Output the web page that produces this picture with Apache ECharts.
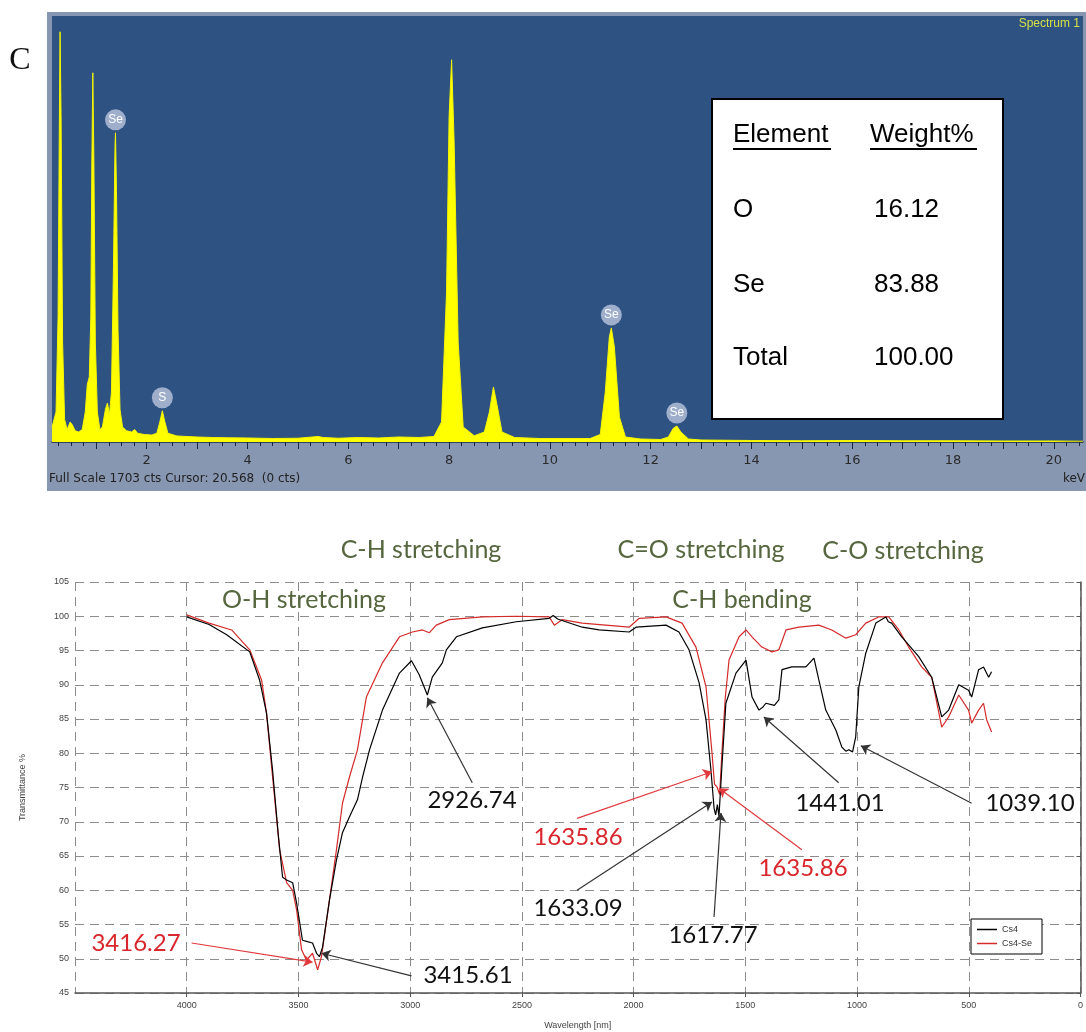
<!DOCTYPE html>
<html>
<head>
<meta charset="utf-8">
<script src="https://cdn.jsdelivr.net/npm/echarts@6/dist/echarts.min.js"></script>
<style>
  html, body { margin: 0; padding: 0; background: #fff; }
  #main { width: 1086px; height: 1032px; }
</style>
</head>
<body>
<div id="main"></div>
<script>
// EDS spectrum (keV / counts)
var edsKeV = [0.12, 0.2, 0.24, 0.27, 0.28, 0.30, 0.33, 0.37, 0.42, 0.48, 0.52, 0.58, 0.65, 0.72, 0.78, 0.82, 0.86, 0.89, 0.91, 0.93, 0.95, 0.98, 1.02, 1.07, 1.12, 1.18, 1.22, 1.26, 1.30, 1.34, 1.37, 1.38, 1.40, 1.43, 1.47, 1.52, 1.6, 1.7, 1.76, 1.82, 1.95, 2.1, 2.2, 2.26, 2.31, 2.36, 2.42, 2.6, 2.8, 3.0, 3.3, 3.6, 4.0, 4.5, 5.0, 5.4, 5.5, 5.8, 6.2, 6.6, 7.0, 7.4, 7.7, 7.85, 7.95, 8.0, 8.05, 8.1, 8.18, 8.28, 8.5, 8.7, 8.8, 8.88, 8.95, 9.05, 9.3, 9.8, 10.3, 10.8, 11.0, 11.1, 11.18, 11.22, 11.28, 11.38, 11.5, 11.8, 12.2, 12.35, 12.45, 12.52, 12.6, 12.75, 13.0, 14, 15, 16, 17, 18, 19, 20, 20.58];
var edsCounts = [60, 120, 500, 1400, 1640, 1300, 400, 90, 50, 80, 70, 45, 40, 50, 120, 230, 260, 500, 1100, 1476, 1150, 400, 120, 50, 60, 130, 156, 110, 200, 700, 1180, 1236, 1000, 450, 130, 60, 45, 40, 50, 35, 30, 28, 35, 80, 125, 80, 35, 24, 22, 20, 18, 17, 16, 14, 15, 22, 18, 15, 18, 16, 20, 18, 22, 80, 600, 1300, 1528, 1200, 400, 60, 25, 40, 120, 220, 150, 40, 18, 14, 14, 14, 30, 200, 420, 456, 380, 100, 20, 12, 10, 20, 55, 64, 40, 12, 8, 6, 5, 6, 5, 5, 4, 4, 3];
var edsPeakNames = ['Se', 'S', 'Se', 'Se'];
var edsPeakKeV = [1.38, 2.31, 11.22, 12.52];
var edsPeakCounts = [1236, 125, 456, 64];
var edsTickLabels = [2, 4, 6, 8, 10, 12, 14, 16, 18, 20];

var tableElements = ['O', 'Se', 'Total'];
var tableWeights = ['16.12', '83.88', '100.00'];

// FTIR, Cs4 (black)
var cs4Wn = [4000, 3900, 3821, 3718, 3674, 3643, 3616, 3590, 3571, 3553, 3526, 3508, 3482, 3460, 3437, 3419, 3406, 3392, 3361, 3330, 3303, 3272, 3236, 3213, 3182, 3124, 3048, 2994, 2960, 2923, 2901, 2856, 2838, 2793, 2677, 2525, 2378, 2360, 2340, 2230, 2154, 2020, 1989, 1855, 1797, 1752, 1707, 1676, 1654, 1640, 1633, 1625, 1618, 1605, 1587, 1542, 1497, 1470, 1439, 1420, 1408, 1370, 1350, 1336, 1292, 1229, 1193, 1171, 1140, 1095, 1068, 1050, 1037, 1020, 1006, 992, 961, 916, 871, 860, 845, 800, 724, 666, 621, 590, 545, 501, 487, 456, 434, 411, 398];
var cs4T = [99.9, 98.8, 97.3, 94.8, 90.7, 85.9, 77.6, 68, 61.9, 61.5, 61.1, 58.1, 52.7, 52.5, 52.3, 50.8, 50.3, 51.7, 58.6, 64.4, 68.4, 70.7, 73.2, 76.5, 80.5, 86.3, 91.7, 93.5, 91.5, 88.5, 91.1, 93.2, 95.1, 97.0, 98.3, 99.2, 99.7, 100.1, 99.6, 98.4, 98.0, 97.7, 98.4, 98.7, 97.7, 95.1, 90.3, 84.9, 77.6, 72.0, 71.0, 72.5, 70.8, 78, 87.3, 91.7, 93.6, 88.2, 86.3, 86.8, 87.3, 87.0, 87.8, 92.2, 92.6, 92.6, 93.9, 90.7, 86.3, 83.4, 80.9, 80.3, 80.5, 80.2, 82.4, 89.7, 94.6, 99.0, 99.9, 99.2, 99.0, 97.0, 94.1, 91.1, 85.3, 86.3, 90.0, 89.2, 88.2, 92.2, 92.6, 91.1, 91.9];

// FTIR, Cs4-Se (red)
var cs4SeWn = [4000, 3900, 3799, 3718, 3665, 3643, 3620, 3584, 3553, 3526, 3508, 3486, 3464, 3437, 3414, 3397, 3361, 3330, 3303, 3272, 3236, 3196, 3124, 3048, 2990, 2945, 2914, 2883, 2825, 2677, 2525, 2378, 2355, 2320, 2230, 2020, 1975, 1855, 1783, 1721, 1676, 1649, 1638, 1627, 1615, 1604, 1590, 1573, 1528, 1497, 1470, 1426, 1381, 1350, 1318, 1260, 1171, 1113, 1050, 1006, 961, 903, 858, 813, 769, 711, 666, 621, 590, 545, 501, 487, 456, 434, 420, 398];
var cs4SeT = [100.2, 99.0, 98.0, 95.1, 90.7, 85.9, 78.0, 65.9, 61.1, 60.0, 57.1, 51.3, 49.8, 50.8, 48.4, 50.3, 58.6, 65.9, 72.7, 76.5, 80.5, 88.2, 93.2, 97.0, 97.7, 98.0, 97.6, 98.7, 99.5, 99.9, 100.0, 99.9, 98.7, 99.5, 99.0, 98.4, 99.7, 99.9, 99.0, 95.5, 89.7, 80.0, 75.5, 75.1, 74.0, 80.5, 88, 93.6, 97.0, 98.0, 97.0, 95.5, 94.8, 95.1, 98.0, 98.4, 98.7, 98.0, 96.8, 97.3, 99.0, 99.9, 99.9, 98.0, 95.5, 92.6, 91.1, 83.8, 85.3, 88.5, 86.3, 84.4, 86.3, 87.3, 84.9, 83.1];

// peak annotations: label, colour, arrow tail [wn, T], arrow tip [wn, T]
var peakLabels = ['2926.74', '3416.27', '3415.61', '1635.86', '1633.09', '1617.77', '1635.86', '1441.01', '1039.10'];
var peakColors = ['#111', '#d8262c', '#111', '#d8262c', '#111', '#111', '#d8262c', '#111', '#111'];
var arrowTail = [[2722, 75.7], [3978, 52.3], [2994, 47.5], [2253, 70.5], [2253, 60.0], [1640, 56.1], [1247, 65.9], [1082, 75.7], [487, 72.7]];
var arrowTip = [[2923, 88.1], [3437, 49.5], [3397, 50.8], [1649, 77.3], [1649, 72.9], [1609, 71.3], [1618, 74.9], [1417, 85.3], [983, 81.1]];
var labelPos = [[472, 800], [136, 943], [468, 975], [578, 837], [578, 908], [713, 935], [803, 868], [840, 803], [1030, 803]];

var bandNames = ['C-H stretching', 'O-H stretching', 'C=O stretching', 'C-O stretching', 'C-H bending'];
var bandPos = [[421, 550], [304, 600], [701, 550], [903, 551], [742, 600]];

function zip(a, b) {
    return a.map(function (v, i) { return [v, b[i]]; });
}

var quarterTicks = [];
for (var q = 0.25; q < 20.58; q += 0.25) quarterTicks.push(Math.round(q * 100) / 100);
var wholeTicks = [];
for (var w = 1; w <= 20; w++) wholeTicks.push(w);

var myChart = echarts.init(document.getElementById('main'));

var graphics = [
    // frame of the EDS panel
    { type: 'rect', z: -10, shape: { x: 47, y: 12, width: 1039, height: 479 }, style: { fill: '#8797b2' } },
    { type: 'text', style: { text: 'C', x: 20, y: 61, font: '32px "Liberation Serif"', fill: '#111', textAlign: 'center', textVerticalAlign: 'middle' } },
    { type: 'text', style: { text: 'Spectrum 1', x: 1080, y: 24, font: '12px "Liberation Sans"', fill: '#d6e046', textAlign: 'right', textVerticalAlign: 'middle' } },
    { type: 'text', style: { text: 'Full Scale 1703 cts Cursor: 20.568  (0 cts)', x: 49, y: 479, font: '12px "DejaVu Sans"', fill: '#222', textVerticalAlign: 'middle' } },
    { type: 'text', style: { text: 'keV', x: 1085, y: 479, font: '12px "DejaVu Sans"', fill: '#222', textAlign: 'right', textVerticalAlign: 'middle' } },
    // weight table
    { type: 'rect', z: 50, shape: { x: 712, y: 99, width: 291, height: 320 }, style: { fill: '#fff', stroke: '#000', lineWidth: 2 } },
    { type: 'text', z: 51, style: { text: 'Element', x: 733, y: 135, font: '26px "Liberation Sans"', fill: '#000', textVerticalAlign: 'middle' } },
    { type: 'text', z: 51, style: { text: 'Weight%', x: 870, y: 135, font: '26px "Liberation Sans"', fill: '#000', textVerticalAlign: 'middle' } },
    { type: 'line', z: 51, shape: { x1: 733, y1: 149, x2: 831, y2: 149 }, style: { stroke: '#000', lineWidth: 2 } },
    { type: 'line', z: 51, shape: { x1: 870, y1: 149, x2: 977, y2: 149 }, style: { stroke: '#000', lineWidth: 2 } }
];
var rowY = [210, 285, 358];
tableElements.forEach(function (el, i) {
    graphics.push({ type: 'text', z: 51, style: { text: el, x: 733, y: rowY[i], font: '26px "Liberation Sans"', fill: '#000', textVerticalAlign: 'middle' } });
    graphics.push({ type: 'text', z: 51, style: { text: tableWeights[i], x: 874, y: rowY[i], font: '26px "Liberation Sans"', fill: '#000', textVerticalAlign: 'middle' } });
});
bandNames.forEach(function (t, i) {
    graphics.push({ type: 'text', z: 40, style: { text: t, x: bandPos[i][0], y: bandPos[i][1], font: '25px Lato', fill: '#56663e', textAlign: 'center', textVerticalAlign: 'middle' } });
});
peakLabels.forEach(function (t, i) {
    graphics.push({ type: 'text', z: 40, style: { text: t, x: labelPos[i][0], y: labelPos[i][1], font: '24px Lato', fill: peakColors[i], textAlign: 'center', textVerticalAlign: 'middle' } });
});

var arrows = peakLabels.map(function (t, i) {
    return [
        { coord: arrowTail[i], lineStyle: { color: peakColors[i] === '#111' ? '#333' : '#e03a3e' } },
        { coord: arrowTip[i] }
    ];
});

var dashed = { color: '#8c8c8c', type: [9, 6], width: 1 };

myChart.setOption({
    animation: false,
    backgroundColor: '#fff',
    graphic: graphics,
    legend: {
        data: ['Cs4', 'Cs4-Se'],
        orient: 'vertical',
        left: 971,
        top: 919,
        backgroundColor: '#fff',
        borderColor: '#000',
        borderWidth: 1,
        borderRadius: 0,
        padding: [6, 10, 6, 6],
        itemGap: 5,
        icon: 'rect',
        itemWidth: 20,
        itemHeight: 1.5,
        textStyle: { fontSize: 9, color: '#333', fontFamily: 'Liberation Sans' }
    },
    grid: [
        { left: 52, top: 16, width: 1031, height: 426, show: true, backgroundColor: '#2e5282', borderWidth: 0 },
        { left: 75, top: 582, width: 1007, height: 411 }
    ],
    xAxis: [
        {
            type: 'value', gridIndex: 0, min: 0.12, max: 20.58,
            axisLine: { show: true, lineStyle: { color: '#18263d', width: 1.5 } },
            axisTick: { show: true, customValues: quarterTicks, length: 4, lineStyle: { color: '#18263d' } },
            axisLabel: { customValues: edsTickLabels, color: '#2a2a2a', fontSize: 13, margin: 12, fontFamily: 'DejaVu Sans' },
            splitLine: { show: false }
        },
        {
            type: 'value', gridIndex: 0, min: 0.12, max: 20.58, position: 'bottom',
            axisLine: { show: false },
            axisTick: { show: true, customValues: wholeTicks, length: 7, lineStyle: { color: '#18263d' } },
            axisLabel: { show: false },
            splitLine: { show: false }
        },
        {
            type: 'value', gridIndex: 1, min: 0, max: 4500, interval: 500, inverse: true,
            name: 'Wavelength [nm]', nameLocation: 'middle', nameGap: 28,
            nameTextStyle: { fontSize: 9, color: '#444', fontFamily: 'Liberation Sans' },
            axisLine: { show: true, lineStyle: { color: '#555', width: 1.5 } },
            axisTick: { show: true, length: 4, lineStyle: { color: '#555' } },
            axisLabel: { showMaxLabel: false, fontSize: 9, color: '#444', fontFamily: 'Liberation Sans', margin: 8,
                formatter: function (v) { return String(v); } },
            splitLine: { show: true, lineStyle: dashed }
        }
    ],
    yAxis: [
        { type: 'value', gridIndex: 0, min: 0, max: 1703, show: false },
        {
            type: 'value', gridIndex: 1, min: 45, max: 105, interval: 5,
            name: 'Transmittance %', nameLocation: 'middle', nameGap: 48, nameRotate: 90,
            nameTextStyle: { fontSize: 9, color: '#444', fontFamily: 'Liberation Sans' },
            axisLine: { show: true, lineStyle: { color: '#555', width: 1.5 } },
            axisTick: { show: true, length: 4, lineStyle: { color: '#555' } },
            axisLabel: { fontSize: 9, color: '#444', fontFamily: 'Liberation Sans', margin: 6 },
            splitLine: { show: true, lineStyle: dashed }
        }
    ],
    series: [
        {
            name: 'EDS',
            type: 'line',
            xAxisIndex: 0,
            yAxisIndex: 0,
            data: zip(edsKeV, edsCounts),
            symbol: 'none',
            lineStyle: { color: '#f4f400', width: 1 },
            areaStyle: { color: '#ffff00', opacity: 1 },
            markPoint: {
                symbol: 'circle',
                symbolSize: 21,
                symbolOffset: [0, -13],
                itemStyle: { color: '#9eaecb' },
                label: { show: true, position: 'inside', color: '#fff', fontSize: 12, formatter: '{b}' },
                data: edsPeakNames.map(function (n, i) {
                    return { name: n, coord: [edsPeakKeV[i], edsPeakCounts[i]] };
                })
            }
        },
        {
            name: 'Cs4',
            type: 'line',
            xAxisIndex: 2,
            yAxisIndex: 1,
            data: zip(cs4Wn, cs4T),
            symbol: 'none',
            itemStyle: { color: '#000' },
            lineStyle: { color: '#000', width: 1.2 },
            z: 3,
            markLine: {
                silent: true,
                symbol: ['none', 'arrow'],
                symbolSize: 9,
                label: { show: false },
                lineStyle: { type: 'solid', width: 1.2 },
                data: arrows
            }
        },
        {
            name: 'Cs4-Se',
            type: 'line',
            xAxisIndex: 2,
            yAxisIndex: 1,
            data: zip(cs4SeWn, cs4SeT),
            symbol: 'none',
            itemStyle: { color: '#d42a2a' },
            lineStyle: { color: '#d42a2a', width: 1.2 },
            z: 2
        }
    ]
});
</script>
</body>
</html>
